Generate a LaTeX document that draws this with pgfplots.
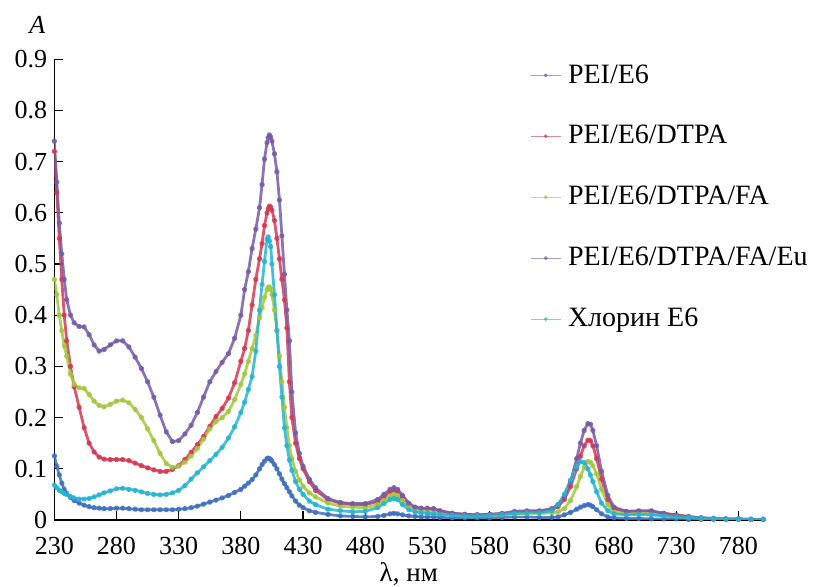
\documentclass[border=0pt]{standalone}
\usepackage{fontspec}
\setmainfont{Liberation Serif}
\usepackage{pgfplots}
\usepackage{pgfplotstable}
\pgfplotsset{compat=1.18}
\definecolor{cB}{RGB}{62,112,192}
\definecolor{cR}{RGB}{214,56,82}
\definecolor{cG}{RGB}{162,200,62}
\definecolor{cP}{RGB}{118,92,168}
\definecolor{cC}{RGB}{38,180,210}
\pgfplotstableread{
l B R G P C
230 .125 .72 .47 .74 .068
232 .105 .64 .44 .66 .063
234 .088 .55 .40 .58 .058
236 .072 .47 .37 .52 .055
238 .060 .40 .34 .47 .052
240 .052 .35 .32 .43 .050
243 .044 .30 .285 .40 .046
246 .038 .26 .265 .385 .043
250 .033 .22 .258 .378 .041
254 .029 .18 .257 .377 .041
258 .026 .15 .245 .362 .042
262 .024 .133 .232 .342 .045
266 .023 .123 .224 .330 .049
270 .022 .119 .221 .333 .053
275 .022 .118 .226 .342 .057
280 .023 .118 .232 .350 .061
285 .023 .118 .234 .350 .062
290 .022 .116 .229 .338 .060
295 .021 .111 .216 .318 .058
300 .020 .106 .200 .296 .055
305 .020 .102 .178 .270 .052
310 .020 .098 .155 .240 .050
315 .020 .095 .130 .205 .049
320 .020 .095 .110 .172 .050
325 .020 .099 .103 .153 .053
330 .021 .106 .105 .155 .058
335 .022 .118 .113 .168 .067
340 .024 .132 .125 .185 .080
345 .027 .147 .140 .210 .092
350 .031 .163 .158 .240 .104
355 .035 .183 .178 .270 .116
360 .039 .202 .192 .290 .128
365 .043 .218 .200 .308 .142
370 .048 .238 .212 .325 .160
375 .054 .268 .235 .355 .182
380 .060 .310 .265 .400 .210
383 .066 .335 .285 .450 .230
386 .072 .370 .310 .485 .255
389 .079 .420 .335 .530 .280
392 .088 .470 .360 .568 .330
395 .100 .510 .395 .610 .410
397 .108 .540 .415 .655 .460
399 .115 .575 .435 .705 .505
401 .120 .600 .450 .737 .548
402 .121 .608 .455 .747 .553
403 .120 .613 .455 .752 .545
404 .118 .611 .450 .748 .534
405 .115 .605 .440 .740 .500
407 .108 .585 .410 .715 .440
409 .100 .550 .370 .680 .370
411 .090 .510 .320 .625 .300
413 .080 .470 .270 .555 .240
415 .071 .430 .220 .480 .180
417 .063 .375 .180 .410 .145
419 .055 .270 .145 .350 .117
421 .047 .200 .120 .250 .097
424 .037 .150 .095 .170 .075
427 .029 .120 .078 .130 .060
430 .024 .100 .066 .105 .050
435 .018 .075 .053 .080 .037
440 .015 .058 .045 .063 .030
450 .011 .040 .033 .042 .021
460 .008 .033 .027 .034 .018
470 .007 .030 .025 .032 .016
480 .006 .030 .024 .032 .017
490 .007 .036 .030 .040 .024
495 .009 .045 .038 .050 .032
500 .012 .055 .047 .060 .040
503 .013 .058 .050 .063 .042
506 .012 .055 .048 .060 .040
510 .010 .044 .038 .048 .030
515 .008 .030 .026 .033 .020
520 .007 .024 .020 .025 .016
525 .006 .022 .018 .023 .014
530 .006 .022 .017 .023 .013
535 .006 .021 .016 .022 .012
540 .005 .018 .013 .018 .011
550 .004 .013 .010 .013 .009
560 .004 .011 .008 .011 .008
570 .004 .010 .008 .010 .008
580 .004 .011 .009 .011 .009
590 .005 .012 .010 .013 .011
600 .006 .015 .012 .017 .013
610 .006 .016 .013 .018 .014
620 .005 .017 .013 .018 .014
630 .005 .020 .014 .022 .018
635 .006 .026 .016 .030 .030
640 .010 .040 .022 .045 .050
645 .015 .065 .038 .075 .078
650 .021 .100 .065 .120 .103
653 .025 .125 .085 .150 .114
656 .028 .145 .103 .175 .112
659 .030 .156 .114 .188 .100
661 .029 .155 .113 .187 .088
663 .026 .145 .106 .175 .075
666 .020 .120 .090 .145 .055
670 .012 .080 .060 .095 .033
675 .006 .040 .030 .048 .018
680 .004 .022 .016 .025 .012
690 .003 .016 .012 .017 .010
700 .003 .017 .013 .018 .011
710 .002 .017 .012 .018 .010
720 .002 .013 .009 .013 .008
730 .002 .010 .007 .009 .006
740 .001 .007 .005 .006 .005
750 .001 .004 .003 .004 .004
760 .001 .003 .002 .003 .003
770 .001 .002 .002 .002 .002
780 .001 .002 .001 .002 .002
790 .001 .001 .001 .001 .001
800 .001 .001 .001 .001 .001
}\data
\begin{document}
\begin{tikzpicture}
\begin{axis}[
  scale only axis,
  width=354.5pt, height=230.4pt,
  xmin=230, xmax=800, ymin=0, ymax=0.9,
  axis x line*=bottom, axis y line*=left,
  axis line style={-, line width=0.6pt},
  xtick={230,280,...,780},
  ytick={0,0.1,...,0.9},
  tick align=inside,
  major tick length=4.5pt,
  tick style={black, line width=0.6pt},
  /pgf/number format/assume math mode=true,
  /pgf/number format/fixed,
  ticklabel style={font=\fontsize{13}{14}\selectfont, inner ysep=0.5pt},
  xticklabel style={yshift=-7.8pt},
  every axis x label/.style={at={(axis description cs:0.5,0)}, anchor=center, yshift=-26.8pt, inner sep=0pt, font=\fontsize{13.5}{15}\selectfont},
  every axis y label/.style={at={(axis description cs:0,1)}, anchor=center, xshift=-8.5pt, yshift=17pt, font=\fontsize{13}{14}\selectfont},
  xlabel={λ, нм},
  ylabel={\textit{A}},
  legend style={draw=none, fill=none, at={(axis description cs:0.671,0.998)}, anchor=north west, row sep=15.7pt, column sep=1.5pt, font=\fontsize{14}{16}\selectfont, inner sep=0pt},
  legend cell align=left,
  legend image code/.code={\draw[mark repeat=2,mark phase=2,line width=0.5pt,opacity=0.6] plot coordinates {(0cm,0cm) (0.26cm,0cm) (0.52cm,0cm)};},
  every axis plot/.append style={line width=1.4pt, mark=*, mark size=0.75pt, opacity=0.85, line join=round},
  clip=true,
]
\addplot[cB] table[x=l,y=B]{\data};
\addlegendentry{PEI/E6}
\addplot[cR] table[x=l,y=R]{\data};
\addlegendentry{PEI/E6/DTPA}
\addplot[cG] table[x=l,y=G]{\data};
\addlegendentry{PEI/E6/DTPA/FA}
\addplot[cP] table[x=l,y=P]{\data};
\addlegendentry{PEI/E6/DTPA/FA/Eu}
\addplot[cC] table[x=l,y=C]{\data};
\addlegendentry{Хлорин E6}
\end{axis}
\pgfresetboundingbox
\path (-27.15pt,-33.5pt) rectangle (386.35pt,260pt);
\end{tikzpicture}
\end{document}
